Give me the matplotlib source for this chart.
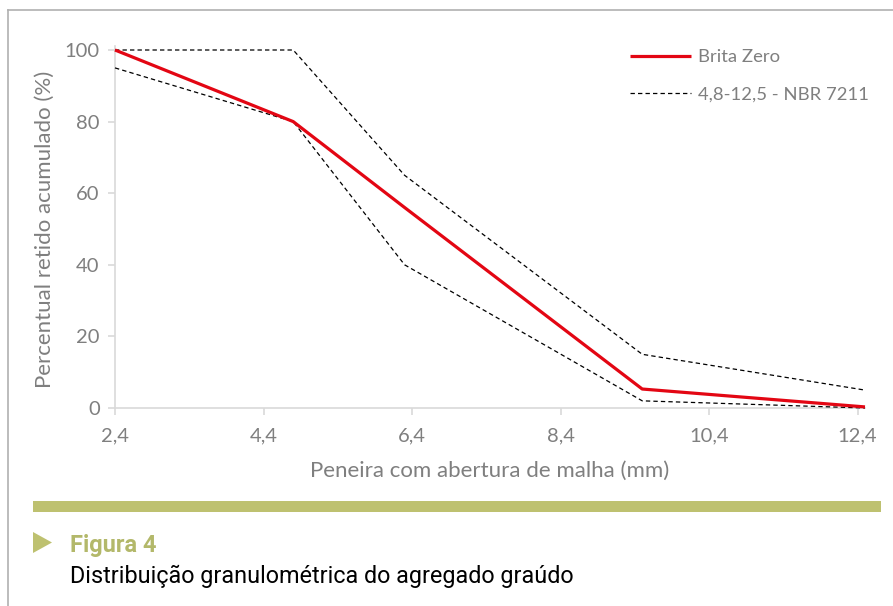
"""Distribuição granulométrica do agregado graúdo (Figura 4)."""

import matplotlib

matplotlib.use("Agg")

import matplotlib.pyplot as plt
from matplotlib.lines import Line2D
from matplotlib.patches import Polygon, Rectangle

# sieve opening (mm) and cumulative retained (%)
brita_x = [2.4, 4.8, 6.3, 9.5, 12.5]
brita_y = [100, 80, 56, 5.3, 0.3]

upper_x = [2.4, 4.8, 6.3, 9.5, 12.5]
upper_y = [100, 100, 65, 15, 5]

lower_x = [2.4, 4.8, 6.3, 9.5, 12.5]
lower_y = [95, 80, 40, 2, 0]

x_ticks = [2.4, 4.4, 6.4, 8.4, 10.4, 12.4]
x_tick_labels = ["2,4", "4,4", "6,4", "8,4", "10,4", "12,4"]
y_ticks = [0, 20, 40, 60, 80, 100]

RED = "#e30613"
GRAY_TXT = "#7f7f7f"
AXIS_GRAY = "#d9d9d9"
OLIVE = "#bec170"

W, H = 893, 606
plt.rcParams["font.family"] = ["Lato", "DejaVu Sans"]

fig = plt.figure(figsize=(W / 100, H / 100), dpi=100)
ax = fig.add_axes([115 / W, 1 - 408 / H, 750 / W, 358 / H])

ax.plot(upper_x, upper_y, color="black", lw=0.9, ls=(0, (3.5, 2.5)),
        label="4,8-12,5 - NBR 7211", clip_on=False, zorder=3)
ax.plot(lower_x, lower_y, color="black", lw=0.9, ls=(0, (3.5, 2.5)),
        clip_on=False, zorder=3)
ax.plot(brita_x, brita_y, color=RED, lw=2.3, label="Brita Zero",
        clip_on=False, zorder=4, solid_capstyle="butt")

ax.set_xlim(2.4, 12.5)
ax.set_ylim(0, 100)
ax.set_xticks(x_ticks)
ax.set_xticklabels(x_tick_labels)
ax.set_yticks(y_ticks)

for side in ("top", "right"):
    ax.spines[side].set_visible(False)
for side in ("left", "bottom"):
    ax.spines[side].set_color(AXIS_GRAY)
    ax.spines[side].set_linewidth(1.2)
ax.spines["left"].set_bounds(0, 101)
ax.tick_params(axis="both", colors=AXIS_GRAY, length=5, width=1.2,
               labelcolor=GRAY_TXT, labelsize=14.5)
ax.tick_params(axis="x", pad=9)
ax.tick_params(axis="y", pad=6)

ax.set_xlabel("Peneira com abertura de malha (mm)", fontsize=16,
              color=GRAY_TXT, labelpad=12)
ax.set_ylabel("Percentual retido acumulado (%)", fontsize=16,
              color=GRAY_TXT, labelpad=7)

handles, labels = ax.get_legend_handles_labels()
order = [1, 0]
ax.legend([handles[i] for i in order], [labels[i] for i in order],
          loc="upper left", bbox_to_anchor=(630 / W, 1 - 49 / H),
          bbox_transform=fig.transFigure, frameon=False, fontsize=13.3,
          labelcolor=GRAY_TXT, handlelength=3.3, handletextpad=0.4,
          labelspacing=1.15, borderpad=0, borderaxespad=0)

# page frame
fig.add_artist(Line2D([8 / W, 8 / W], [0, 1 - 10 / H], color="#b0b0b0",
                      lw=1.2, transform=fig.transFigure))
fig.add_artist(Line2D([8 / W, 1], [1 - 10 / H, 1 - 10 / H], color="#b0b0b0",
                      lw=1.2, transform=fig.transFigure))

# caption block
fig.add_artist(Rectangle((33 / W, 1 - 512 / H), 848 / W, 11 / H,
                         color=OLIVE, transform=fig.transFigure, lw=0))
fig.add_artist(Polygon([(33 / W, 1 - 532 / H), (33 / W, 1 - 553 / H),
                        (52 / W, 1 - 542.5 / H)], closed=True, color=OLIVE,
                       transform=fig.transFigure, lw=0))
fig.text(70 / W, 1 - 552 / H, "Figura 4", fontsize=17, fontweight="bold",
         color="#b3b86a", family=["Roboto", "DejaVu Sans"], va="baseline")
fig.text(70 / W, 1 - 583 / H, "Distribuição granulométrica do agregado graúdo",
         fontsize=16.8, color="black", family=["Roboto", "DejaVu Sans"],
         va="baseline")

fig.savefig("out.png", dpi=100)
plt.close(fig)
